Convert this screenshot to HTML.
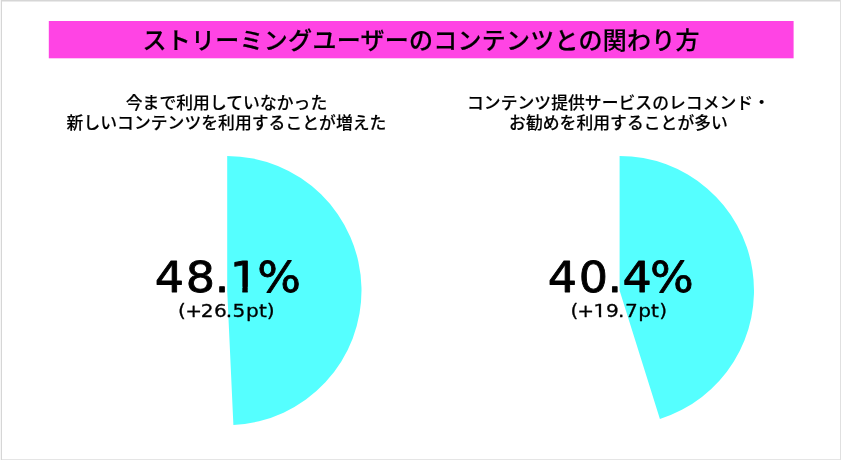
<!DOCTYPE html>
<html lang="ja">
<head>
<meta charset="utf-8">
<title>ストリーミングユーザーのコンテンツとの関わり方</title>
<style>
html,body{margin:0;padding:0;}
body{width:841px;height:460px;overflow:hidden;background:#fff;position:relative;
  font-family:"Liberation Sans","Noto Sans CJK JP",sans-serif;color:#000;}
.ln{position:absolute;}
#title{position:absolute;left:48.8px;top:22px;width:744.8px;height:37.5px;
  text-align:center;font-size:24px;line-height:37.5px;font-weight:500;white-space:nowrap;letter-spacing:0.26px;-webkit-text-stroke:0.2px #000;}
.sub{position:absolute;top:93.75px;width:400px;text-align:center;font-size:16.8px;line-height:20px;font-weight:500;white-space:nowrap;letter-spacing:0.055px;-webkit-text-stroke:0.15px #000;}
#sub1{left:26.5px;}
#sub2{left:418.5px;}
svg{position:absolute;left:0;top:0;}
svg text{font-family:"DejaVu Sans","Liberation Sans",sans-serif;fill:#000;stroke:#000;stroke-linejoin:round;stroke-linecap:round;}
text.big{font-size:41.8px;stroke-width:0.8px;}
text.small{font-size:18.3px;stroke-width:0.3px;}
</style>
</head>
<body>
<div class="ln" style="left:0;top:0;width:841px;height:1px;background:#d6d6d6"></div>
<div class="ln" style="left:0;top:1px;width:841px;height:1px;background:#eaeaea"></div>
<div class="ln" style="left:0;top:459px;width:841px;height:1px;background:#e5e5e5"></div>
<div class="ln" style="left:840px;top:0;width:1px;height:460px;background:#e0e0e0"></div>
<div class="ln" style="left:0;top:0;width:1px;height:460px;background:#f6f6f6"></div>
<div class="ln" style="left:1px;top:0;width:1px;height:460px;background:#d6d6d6"></div>
<svg width="841" height="460" viewBox="0 0 841 460">
  <rect x="48.8" y="21" width="744.8" height="37.3" fill="#ff44e4"/>
  <path d="M227.2 290.55 L227.2 156.050 A134.3 134.5 0 0 1 233.393 424.907 Z" fill="#55ffff"/>
  <path d="M619.6 290.6 L619.6 156.000 A134.4 134.6 0 0 1 659.918 419.001 Z" fill="#55ffff"/>
<clipPath id="c1"><rect x="0" y="-83.60" width="900" height="78.83"/><rect x="220.31" y="-5.77" width="4.88" height="41.80"/><rect x="0" y="-5.77" width="210.88" height="41.80"/><rect x="233.87" y="-5.77" width="666.13" height="41.80"/></clipPath><text class="big" transform="translate(0 291.6) scale(1.1 1)" x="140.72 168.99 195.20 208.79 233.78" y="0" clip-path="url(#c1)">48.1%</text>
<text class="small" transform="translate(0 317.3) scale(1.1 1)" x="161.92 168.33 182.56 194.48 205.19 211.27 223.63 235.39 242.62" y="0">(+26.5pt)</text>
<text class="big" transform="translate(0 291.6) scale(1.1 1)" x="497.99 526.26 552.24 565.95 590.82" y="0">40.4%</text>
<clipPath id="c4"><rect x="0" y="-36.60" width="900" height="34.03"/><rect x="544.47" y="-3.57" width="2.09" height="18.30"/><rect x="0" y="-3.57" width="540.32" height="18.30"/><rect x="550.38" y="-3.57" width="349.62" height="18.30"/></clipPath><text class="small" transform="translate(0 317.3) scale(1.1 1)" x="518.60 524.70 539.40 550.97 561.74 568.21 580.32 591.89 599.30" y="0" clip-path="url(#c4)">(+19.7pt)</text>
</svg>
<div id="title">ストリーミングユーザーのコンテンツとの関わり方</div>
<div class="sub" id="sub1">今まで利用していなかった<br>新しいコンテンツを利用することが増えた</div>
<div class="sub" id="sub2">コンテンツ提供サービスのレコメンド・<br>お勧めを利用することが多い</div>
</body>
</html>
